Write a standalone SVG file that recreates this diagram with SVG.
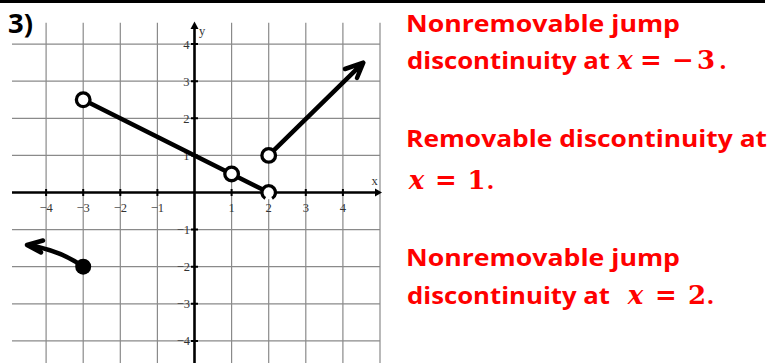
<svg xmlns="http://www.w3.org/2000/svg" width="771" height="363" viewBox="0 0 771 363">
<style>
.grid{stroke:#8a8a8a;stroke-width:1.2;fill:none}
.axis{stroke:#000;stroke-width:2.6;fill:none}
.tick{stroke:#000;stroke-width:2;fill:none}
.tl{font-family:"Liberation Serif",serif;font-size:12.5px;fill:#333}
.curve{stroke:#000;stroke-width:4.5;fill:none;stroke-linecap:round;stroke-linejoin:round}
.open{fill:#fff;stroke:#000;stroke-width:3.3}
.red{font-family:"Open Sans","Liberation Sans",sans-serif;font-weight:bold;font-size:24px;fill:#ff0000}
.math{font-family:"DejaVu Serif","Liberation Serif",serif;font-weight:bold;font-size:26px;fill:#ff0000}
</style>
<rect width="771" height="363" fill="#fff"/>
<line x1="0" y1="1.5" x2="765" y2="1.5" stroke="#000" stroke-width="3"/>
<text x="8" y="33" font-family="'Open Sans','Liberation Sans',sans-serif" font-weight="bold" font-size="27" fill="#000" textLength="25" lengthAdjust="spacingAndGlyphs">3)</text>
<g id="grid">
<path class="grid" d="M46.1,22.7V363M83.2,22.7V363M120.3,22.7V363M157.4,22.7V363M231.6,22.7V363M268.7,22.7V363M305.8,22.7V363M342.9,22.7V363M380,22.7V363"/>
<path class="grid" d="M12,44.1H380M12,81.2H380M12,118.3H380M12,155.4H380M12,229.6H380M12,266.7H380M12,303.8H380M12,340.9H380"/>
</g>
<g id="axes">
<line class="axis" x1="12" y1="192.5" x2="377" y2="192.5"/>
<path d="M382,192.5 L375,188.5 L375,196.5 Z" fill="#000"/>
<line class="axis" x1="194.5" y1="26" x2="194.5" y2="363"/>
<path d="M194.5,21.5 L190.5,29 L198.5,29 Z" fill="#000"/>
<path class="tick" d="M191,44.1H198M191,81.2H198M191,118.3H198M191,155.4H198M191,229.6H198M191,266.7H198M191,303.8H198M191,340.9H198"/>
<path class="tick" d="M46.1,189V196M83.2,189V196M120.3,189V196M157.4,189V196M231.6,189V196M268.7,189V196M305.8,189V196M342.9,189V196"/>
</g>
<g id="tick-labels" class="tl">
<g text-anchor="middle">
<text x="46.1" y="211.5">−4</text>
<text x="83.2" y="211.5">−3</text>
<text x="120.3" y="211.5">−2</text>
<text x="157.4" y="211.5">−1</text>
<text x="231.6" y="211.5">1</text>
<text x="268.7" y="211.5">2</text>
<text x="305.8" y="211.5">3</text>
<text x="342.9" y="211.5">4</text>
</g>
<g text-anchor="end">
<text x="189.5" y="48.5">4</text>
<text x="189.5" y="85.5">3</text>
<text x="189.5" y="122.5">2</text>
<text x="189.5" y="159.5">1</text>
<text x="190" y="234">−1</text>
<text x="190" y="271">−2</text>
<text x="190" y="308">−3</text>
<text x="190" y="345">−4</text>
</g>
<text x="199" y="35">y</text>
<text x="371.5" y="185">x</text>
</g>
<g id="connectors">
<path class="curve" d="M83.2,99.75 L268.7,192.5"/>
<path class="curve" d="M268.7,155.4 L363.3,62.7 M345,69 L363.3,62.7 L357,78"/>
<path class="curve" d="M83.2,266.7 Q60,250 27,245 M43,240.5 L27,245 L41,252.5"/>
</g>
<g id="node-open-m3">
<circle class="open" cx="83.2" cy="99.75" r="6.8"/>
</g>
<g id="node-open-1">
<circle class="open" cx="231.6" cy="173.95" r="6.8"/>
</g>
<g id="node-open-2-0">
<circle cx="268.7" cy="192.5" r="6.8" fill="#fff"/>
<path d="M265.3,198.4 A6.8,6.8 0 1 1 272.1,198.4" fill="none" stroke="#000" stroke-width="3.3"/>
</g>
<g id="node-open-2-1">
<circle class="open" cx="268.7" cy="155.4" r="6.8"/>
</g>
<g id="node-closed-m3">
<circle cx="83.2" cy="266.7" r="8" fill="#000"/>
</g>
<g id="notes">
<text class="red" x="406" y="32" textLength="274" lengthAdjust="spacingAndGlyphs">Nonremovable jump</text>
<text class="red" x="407" y="68.5" textLength="203" lengthAdjust="spacingAndGlyphs">discontinuity at</text>
<text class="math" y="68.5" text-anchor="middle" x="625 651 683 706"><tspan font-style="italic">x</tspan>=−3</text>
<text class="red" x="719.5" y="68.5">.</text>
<text class="red" x="406" y="147" textLength="361" lengthAdjust="spacingAndGlyphs">Removable discontinuity at</text>
<text class="math" y="188.5" text-anchor="middle" x="416.5 446 476.5"><tspan font-style="italic">x</tspan>=1</text>
<text class="red" x="487" y="188.5">.</text>
<text class="red" x="406" y="266" textLength="274" lengthAdjust="spacingAndGlyphs">Nonremovable jump</text>
<text class="red" x="407" y="303.5" textLength="203" lengthAdjust="spacingAndGlyphs">discontinuity at</text>
<text class="math" y="303.5" text-anchor="middle" x="635.5 666 697"><tspan font-style="italic">x</tspan>=2</text>
<text class="red" x="707" y="303.5">.</text>
</g>
</svg>
